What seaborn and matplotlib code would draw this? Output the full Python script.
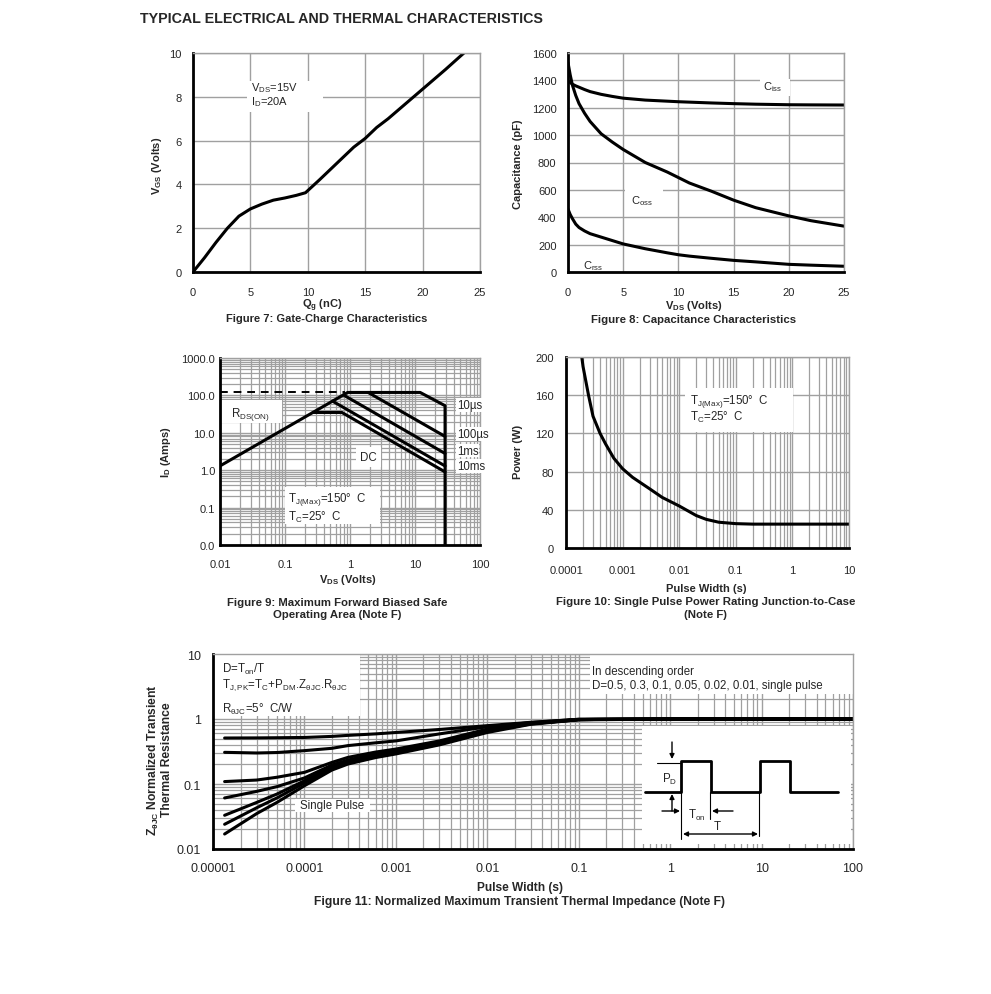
import numpy as np
import matplotlib
matplotlib.use('Agg')
import matplotlib.pyplot as plt
import matplotlib.ticker as mticker
from matplotlib.patches import Rectangle
import seaborn as sns

# Figure 7: gate charge
qg_nc = [0, 1, 2, 3, 4, 5, 6, 7, 8, 9, 9.8, 11, 12, 13, 14, 15, 16, 17, 18, 19, 20, 21, 22, 23, 23.6]
vgs_v = [0, 0.65, 1.35, 2.0, 2.55, 2.88, 3.1, 3.28, 3.38, 3.5, 3.62, 4.2, 4.7, 5.2, 5.7, 6.1, 6.6, 7.0,
         7.45, 7.9, 8.35, 8.8, 9.25, 9.72, 10.0]

# Figure 8: capacitance
vds_cap = [0, 0.2, 0.4, 0.7, 1, 1.5, 2, 3, 4, 5, 7, 9, 10, 11, 13, 15, 17, 20, 22, 25]
c_iss = [1395, 1385, 1372, 1360, 1350, 1333, 1318, 1298, 1283, 1270, 1256, 1248, 1244, 1241, 1235,
         1230, 1226, 1222, 1221, 1220]
c_oss = [1530, 1440, 1365, 1290, 1230, 1160, 1100, 1010, 950, 895, 800, 730, 690, 650, 590, 525, 470,
         410, 375, 335]
c_rss = [460, 420, 390, 350, 325, 300, 280, 255, 230, 205, 170, 140, 126, 116, 100, 85, 74, 56, 50, 42]

# Figure 9: safe operating area
rds_dash_v = [0.01, 0.85]
rds_dash_i = [120, 120]
soa_10us_v = [0.01, 0.92, 12, 29, 29]
soa_10us_i = [1.3, 120, 120, 53, 0.01]
soa_100us_v = [1.9, 29]
soa_100us_i = [120, 8]
soa_1ms_v = [0.79, 29]
soa_1ms_i = [103, 2.8]
soa_10ms_v = [0.54, 29]
soa_10ms_i = [70, 1.3]
soa_dc_v = [0.27, 0.75, 29]
soa_dc_i = [35, 35, 0.9]

# Figure 10: single pulse power
pulse_s = [1.9e-4, 2e-4, 2.5e-4, 3e-4, 4e-4, 5e-4, 7e-4, 1e-3, 1.5e-3, 2e-3, 3e-3, 5e-3, 1e-2, 2e-2,
           3e-2, 5e-2, 0.1, 0.2, 1, 10]
power_w = [200, 190, 160, 138, 120, 109, 94, 83, 74, 69, 62, 53, 44, 34, 30, 27, 25.5, 25, 25, 25]

# Figure 11: transient thermal impedance
zth_t = [1.34e-5, 3e-5, 5e-5, 1e-4, 2e-4, 3e-4, 6e-4, 1e-3, 3e-3, 1e-2, 3e-2, 1e-1, 1, 10, 100]
zth_d05 = [0.51, 0.512, 0.515, 0.52, 0.54, 0.56, 0.59, 0.62, 0.69, 0.79, 0.89, 0.99, 1, 1, 1]
zth_d03 = [0.307, 0.30, 0.305, 0.326, 0.354, 0.39, 0.43, 0.46, 0.59, 0.76, 0.88, 0.99, 1, 1, 1]
zth_d01 = [0.109, 0.115, 0.127, 0.151, 0.215, 0.257, 0.31, 0.345, 0.46, 0.70, 0.86, 0.98, 1, 1, 1]
zth_d005 = [0.061, 0.077, 0.091, 0.124, 0.196, 0.234, 0.29, 0.326, 0.44, 0.68, 0.85, 0.98, 1, 1, 1]
zth_d002 = [0.033, 0.052, 0.070, 0.112, 0.185, 0.223, 0.28, 0.314, 0.42, 0.66, 0.85, 0.98, 1, 1, 1]
zth_d001 = [0.024, 0.043, 0.061, 0.104, 0.174, 0.213, 0.27, 0.30, 0.41, 0.65, 0.84, 0.98, 1, 1, 1]
zth_single = [0.017, 0.035, 0.052, 0.094, 0.164, 0.203, 0.255, 0.29, 0.40, 0.62, 0.83, 0.97, 1, 1, 1]

# duty cycle sketch (inset, drawn in its own units)
wave_x = [645, 681, 681, 711, 711, 760, 760, 790, 790, 838]
wave_y = [793, 793, 762, 762, 793, 793, 762, 762, 793, 793]

sns.set_style('white')
plt.rcParams['font.family'] = ['Liberation Sans', 'DejaVu Sans']
plt.rcParams['mathtext.fontset'] = 'custom'
plt.rcParams['mathtext.rm'] = 'Liberation Sans'
plt.rcParams['mathtext.bf'] = 'Liberation Sans:bold'
plt.rcParams['mathtext.it'] = 'Liberation Sans:italic'
plt.rcParams['mathtext.default'] = 'regular'

W, H = 991, 995
GRID = '#a0a0a0'
LW = 2.2

fig = plt.figure(figsize=(W / 100, H / 100), dpi=100)
fig.patch.set_facecolor('white')


def rect(l, t, r, b):
    return [l / W, 1 - b / H, (r - l) / W, (b - t) / H]


def ftext(x, y, s, **kw):
    kw.setdefault('fontsize', 8)
    kw.setdefault('ha', 'center')
    kw.setdefault('va', 'center')
    fig.text(x / W, 1 - y / H, s, **kw)


def style_axes(ax, xpad, ypad, size=8):
    ax.set_axisbelow(True)
    for s in ('left', 'bottom'):
        ax.spines[s].set_color('black')
        ax.spines[s].set_linewidth(2)
    for s in ('top', 'right'):
        ax.spines[s].set_color(GRID)
        ax.spines[s].set_linewidth(1)
    ax.tick_params(which='both', length=0, labelsize=size)
    ax.tick_params(axis='x', pad=xpad)
    ax.tick_params(axis='y', pad=ypad)
    ax.grid(True, which='major', color=GRID, lw=1)
    ax.set_xlabel('')
    ax.set_ylabel('')


def log_minor(ax, axes=('x', 'y')):
    for a in axes:
        axis = ax.xaxis if a == 'x' else ax.yaxis
        axis.set_minor_locator(mticker.LogLocator(base=10, subs=np.arange(2, 10), numticks=200))
        axis.set_minor_formatter(mticker.NullFormatter())
        ax.grid(True, which='minor', axis=a, color=GRID, lw=0.9)


def curve(ax, x, y, **kw):
    kw.setdefault('color', 'black')
    kw.setdefault('lw', LW)
    sns.lineplot(x=x, y=y, ax=ax, sort=False, estimator=None, **kw)


def white_box(ax, x0, y0, x1, y1):
    ax.add_patch(Rectangle((x0, y0), x1 - x0, y1 - y0, fc='white', ec='none', zorder=1))


ftext(140, 19, 'TYPICAL ELECTRICAL AND THERMAL CHARACTERISTICS', fontsize=10.3, fontweight='bold', ha='left')

# ---------------- Figure 7
ax7 = fig.add_axes(rect(193, 54, 480, 273))
curve(ax7, qg_nc, vgs_v)
ax7.set_xlim(0, 25)
ax7.set_ylim(0, 10)
ax7.set_xticks(range(0, 26, 5))
ax7.set_yticks(range(0, 11, 2))
style_axes(ax7, 11, 8)
white_box(ax7, 4.7, 7.3, 11.3, 8.7)
ax7.text(5.05, 8.43, r'V$_{\mathrm{DS}}$=15V', fontsize=8, va='center')
ax7.text(5.05, 7.82, r'I$_{\mathrm{D}}$=20A', fontsize=8, va='center')
ftext(322, 306, r'Q$_{\mathbf{g}}$ (nC)', fontweight='bold')
ftext(327, 319, 'Figure 7: Gate-Charge Characteristics', fontweight='bold')
ftext(157, 166, r'V$_{\mathbf{GS}}$ (Volts)', fontweight='bold', rotation=90)

# ---------------- Figure 8
ax8 = fig.add_axes(rect(568, 54, 844, 273))
curve(ax8, vds_cap, c_iss)
curve(ax8, vds_cap, c_oss)
curve(ax8, vds_cap, c_rss)
ax8.set_xlim(0, 25)
ax8.set_ylim(0, 1600)
ax8.set_xticks(range(0, 26, 5))
ax8.set_yticks(range(0, 1601, 200))
style_axes(ax8, 11, 8.3)
white_box(ax8, 17.4, 1285, 20.1, 1410)
white_box(ax8, 5.2, 480, 8.6, 610)
ax8.text(18.5, 1355, r'C$_{\mathrm{iss}}$', fontsize=8, ha='center', va='center')
ax8.text(6.7, 525, r'C$_{\mathrm{oss}}$', fontsize=8, ha='center', va='center')
ax8.text(2.3, 50, r'C$_{\mathrm{rss}}$', fontsize=8, ha='center', va='center')
ftext(694, 306, r'V$_{\mathbf{DS}}$ (Volts)', fontweight='bold')
ftext(694, 320, 'Figure 8: Capacitance Characteristics', fontweight='bold', fontsize=8.2)
ftext(518, 164, 'Capacitance (pF)', fontweight='bold', rotation=90)

# ---------------- Figure 9
ax9 = fig.add_axes(rect(220, 359, 480, 546))
ax9.set_xscale('log')
ax9.set_yscale('log')
curve(ax9, rds_dash_v, rds_dash_i, lw=1.4, linestyle=(0, (4, 3)))
curve(ax9, soa_10us_v, soa_10us_i)
curve(ax9, soa_100us_v, soa_100us_i)
curve(ax9, soa_1ms_v, soa_1ms_i)
curve(ax9, soa_10ms_v, soa_10ms_i)
curve(ax9, soa_dc_v, soa_dc_i)
ax9.set_xlim(0.01, 100)
ax9.set_ylim(0.01, 1000)
ax9.set_xticks([0.01, 0.1, 1, 10, 100], ['0.01', '0.1', '1', '10', '100'])
ax9.set_yticks([0.01, 0.1, 1, 10, 100, 1000], ['0.0', '0.1', '1.0', '10.0', '100.0', '1000.0'])
log_minor(ax9)
style_axes(ax9, 10, 3.6)
white_box(ax9, 0.0105, 18, 0.09, 75)
white_box(ax9, 0.1, 0.036, 2.9, 0.36)
ax9.text(0.015, 33, r'R$_{\mathrm{DS(ON)}}$', fontsize=8.3, va='center')
ax9.text(0.111, 0.17, r'T$_{\mathrm{J(Max)}}$=150°  C', fontsize=8.3, va='center')
ax9.text(0.111, 0.059, r'T$_{\mathrm{C}}$=25°  C', fontsize=8.3, va='center')
ax9.text(1.95, 2.25, 'DC', fontsize=8.3, ha='center', va='center',
         bbox=dict(fc='white', ec='none', pad=3))
for lab, yv in [('10µs', 55), ('100µs', 9.3), ('1ms', 3.3), ('10ms', 1.29)]:
    ax9.text(44, yv, lab, fontsize=8.3, va='center', clip_on=False,
             bbox=dict(fc='white', ec='none', pad=0.5))
ftext(348, 580, r'V$_{\mathbf{DS}}$ (Volts)', fontweight='bold')
ftext(337, 603, 'Figure 9: Maximum Forward Biased Safe', fontweight='bold', fontsize=8.2)
ftext(337, 615, 'Operating Area (Note F)', fontweight='bold', fontsize=8.2)
ftext(166, 452, r'I$_{\mathbf{D}}$ (Amps)', fontweight='bold', rotation=90)

# ---------------- Figure 10
ax10 = fig.add_axes(rect(566, 358, 849, 549))
ax10.set_xscale('log')
curve(ax10, pulse_s, power_w)
ax10.set_xlim(1e-4, 10)
ax10.set_ylim(0, 200)
ax10.set_xticks([1e-4, 1e-3, 1e-2, 0.1, 1, 10], ['0.0001', '0.001', '0.01', '0.1', '1', '10'])
ax10.set_yticks(range(0, 201, 40))
log_minor(ax10, axes=('x',))
style_axes(ax10, 12, 9)
white_box(ax10, 0.0126, 121, 1.02, 168)
ax10.text(0.0155, 154, r'T$_{\mathrm{J(Max)}}$=150°  C', fontsize=8.3, va='center')
ax10.text(0.0155, 138, r'T$_{\mathrm{C}}$=25°  C', fontsize=8.3, va='center')
ftext(706, 589, 'Pulse Width (s)', fontweight='bold')
ftext(706, 602, 'Figure 10: Single Pulse Power Rating Junction-to-Case', fontweight='bold', fontsize=8.2)
ftext(706, 615, '(Note F)', fontweight='bold', fontsize=8.2)
ftext(518, 452, 'Power (W)', fontweight='bold', rotation=90)

# ---------------- Figure 11
ax11 = fig.add_axes(rect(213, 655, 853, 850))
ax11.set_xscale('log')
ax11.set_yscale('log')
for z in (zth_d05, zth_d03, zth_d01, zth_d005, zth_d002, zth_d001, zth_single):
    curve(ax11, zth_t, z)
ax11.set_xlim(1e-5, 100)
ax11.set_ylim(0.01, 10)
ax11.set_xticks([1e-5, 1e-4, 1e-3, 1e-2, 0.1, 1, 10, 100],
                ['0.00001', '0.0001', '0.001', '0.01', '0.1', '1', '10', '100'])
ax11.set_yticks([0.01, 0.1, 1, 10], ['0.01', '0.1', '1', '10'])
log_minor(ax11)
style_axes(ax11, 9.5, 8.6, size=9)
white_box(ax11, 1e-5, 1.11, 4.06e-4, 10)
white_box(ax11, 7.9e-5, 0.037, 5.2e-4, 0.059)
white_box(ax11, 0.133, 2.43, 100, 10)
ax11.text(1.25e-5, 5.9, r'D=T$_{\mathrm{on}}$/T', fontsize=8.3, va='center')
ax11.text(1.25e-5, 3.45,
          r'T$_{\mathrm{J,PK}}$=T$_{\mathrm{C}}$+P$_{\mathrm{DM}}$.Z$_{\mathrm{θJC}}$.R$_{\mathrm{θJC}}$',
          fontsize=8.3, va='center')
ax11.text(1.25e-5, 1.43, r'R$_{\mathrm{θJC}}$=5°  C/W', fontsize=8.3, va='center')
ax11.text(8.9e-5, 0.047, 'Single Pulse', fontsize=8.3, va='center')
ax11.text(0.139, 5.4, 'In descending order', fontsize=8.3, va='center')
ax11.text(0.139, 3.3, 'D=0.5, 0.3, 0.1, 0.05, 0.02, 0.01, single pulse', fontsize=8.3, va='center')
ftext(520, 888, 'Pulse Width (s)', fontweight='bold', fontsize=8.6)
ftext(520, 902, 'Figure 11: Normalized Maximum Transient Thermal Impedance (Note F)',
      fontweight='bold', fontsize=8.7)
ftext(159, 760, 'Z$_{\\mathbf{θJC}}$ Normalized Transient\nThermal Resistance',
      fontweight='bold', rotation=90, fontsize=8.7, multialignment='center', linespacing=1.0)

# inset: duty cycle sketch
axi = fig.add_axes(rect(642, 727, 851, 845))
axi.set_xlim(642, 851)
axi.set_ylim(845, 727)
axi.set_xticks([])
axi.set_yticks([])
for s in axi.spines.values():
    s.set_visible(False)
axi.set_facecolor('white')
curve(axi, wave_x, wave_y, lw=2.0)
thin = dict(color='black', lw=0.8)
axi.plot([657, 681], [764, 764], **thin)
axi.plot([681, 681], [793, 840], **thin)
axi.plot([710, 710], [793, 820], **thin)
axi.plot([759, 759], [793, 837], **thin)
arr = dict(arrowstyle='-|>', color='black', lw=1, mutation_scale=7, shrinkA=0, shrinkB=0)
axi.annotate('', xy=(672, 760), xytext=(672, 743), arrowprops=arr)
axi.annotate('', xy=(672, 795), xytext=(672, 812), arrowprops=arr)
axi.annotate('', xy=(680, 812), xytext=(662, 812), arrowprops=arr)
axi.annotate('', xy=(712, 812), xytext=(733, 812), arrowprops=arr)
axi.annotate('', xy=(683, 835), xytext=(758, 835),
             arrowprops=dict(arrowstyle='<|-|>', color='black', lw=1, mutation_scale=7,
                             shrinkA=0, shrinkB=0))
axi.text(670, 779, r'P$_{\mathrm{D}}$', fontsize=8.3, ha='center', va='center')
axi.text(697, 815, r'T$_{\mathrm{on}}$', fontsize=8.3, ha='center', va='center')
axi.text(717, 827, 'T', fontsize=8.3, ha='center', va='center')

fig.savefig('out.png', dpi=100, facecolor='white')
